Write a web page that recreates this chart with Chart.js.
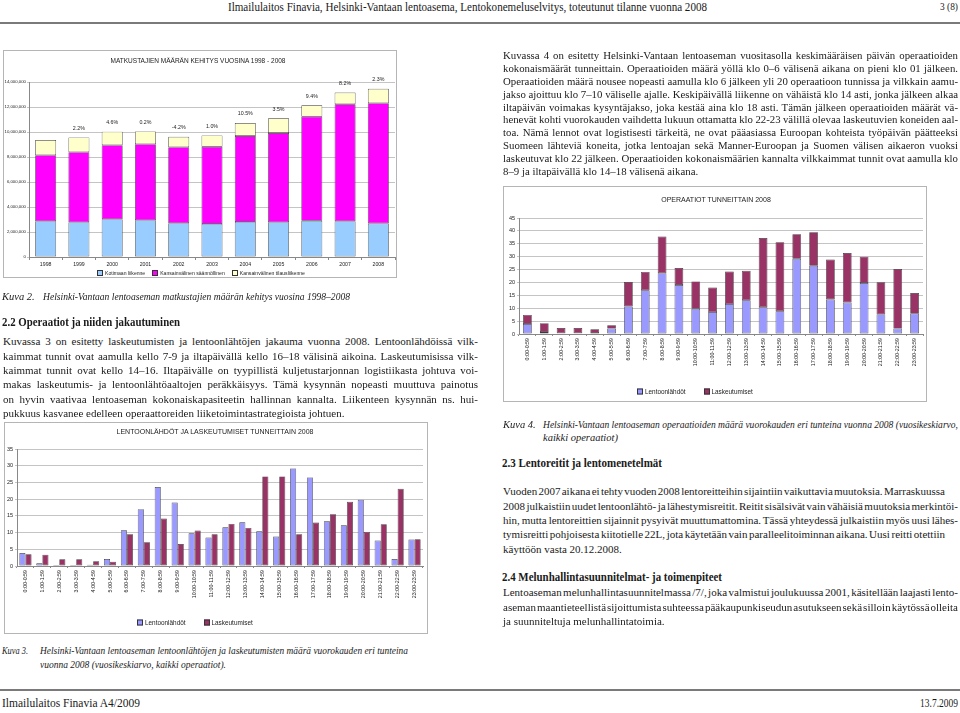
<!DOCTYPE html>
<html><head><meta charset="utf-8">
<script src="https://cdn.jsdelivr.net/npm/chart.js@4.4.1/dist/chart.umd.min.js"></script>
<style>
html,body{margin:0;padding:0;}
body{width:960px;height:713px;position:relative;background:#fff;overflow:hidden;font-family:"Liberation Serif","Times New Roman",serif;color:#1a1a1a;}
.ln{position:absolute;white-space:nowrap;transform-origin:left center;}
.box{position:absolute;border:1px solid #b5b5b5;box-sizing:border-box;background:#fff;}
.cw{position:absolute;}
.ct{position:absolute;font-family:"Liberation Sans",Arial,sans-serif;color:#222;white-space:nowrap;transform:translate(-50%,-50%);}
.lg{position:absolute;font-family:"Liberation Sans",Arial,sans-serif;color:#222;white-space:nowrap;display:flex;align-items:center;transform:translateY(-50%);}
.lg i{display:inline-block;width:4px;height:4px;border:0.6px solid #333;margin-right:2px;}
.lg span{display:inline-flex;align-items:center;}
.rule{position:absolute;left:0;width:960px;height:2px;background:#7a7a7a;}
</style>
</head><body>

<div class="rule" style="top:22px"></div>
<div class="rule" style="top:689px"></div>

<div class="box" style="left:3px;top:50px;width:394px;height:228px"></div>
<div class="cw" style="left:4px;top:51px;width:392px;height:226px"><canvas id="c1"></canvas></div>
<div class="ct" style="left:198px;top:60px;font-size:6.5px">MATKUSTAJIEN MÄÄRÄN KEHITYS VUOSINA 1998 - 2008</div>
<div class="lg" style="left:97px;top:273px;font-size:5.1px">
  <span><i style="background:#99CCFF"></i>Kotimaan liikenne</span>
  <span style="margin-left:7px"><i style="background:#FF00FF"></i>Kansainvälinen säännöllinen</span>
  <span style="margin-left:7px"><i style="background:#FFFFCC"></i>Kansainvälinen tilausliikenne</span>
</div>

<div class="box" style="left:503px;top:186px;width:424px;height:216px"></div>
<div class="cw" style="left:504px;top:187px;width:422px;height:214px"><canvas id="c4"></canvas></div>
<div class="ct" style="left:716px;top:199px;font-size:7px">OPERAATIOT TUNNEITTAIN 2008</div>
<div class="lg" style="left:637px;top:391px;font-size:6.4px">
  <span><i style="background:#9999FF"></i>Lentoonlähdöt</span>
  <span style="margin-left:18px"><i style="background:#993366"></i>Laskeutumiset</span>
</div>

<div class="box" style="left:4px;top:422px;width:424px;height:212px"></div>
<div class="cw" style="left:5px;top:423px;width:422px;height:210px"><canvas id="c3"></canvas></div>
<div class="ct" style="left:215px;top:431px;font-size:7px">LENTOONLÄHDÖT JA LASKEUTUMISET TUNNEITTAIN 2008</div>
<div class="lg" style="left:137px;top:622px;font-size:6.4px">
  <span><i style="background:#9999FF"></i>Lentoonlähdöt</span>
  <span style="margin-left:18px"><i style="background:#993366"></i>Laskeutumiset</span>
</div>

<script>
// ---------- DATA ----------
const years = ['1998','1999','2000','2001','2002','2003','2004','2005','2006','2007','2008'];
const domestic      = [2870000,2790000,3030000,2950000,2710000,2650000,2810000,2790000,2900000,2870000,2680000];
const intlScheduled = [5280000,5600000,5920000,6080000,6080000,6170000,6870000,7130000,8330000,9350000,9630000];
const intlCharter   = [1210000,1180000,1080000,1020000, 830000, 910000,1040000,1180000, 910000, 940000,1150000];
const growthLabels  = ['','2.2%','4.6%','0.2%','-4.2%','1.0%','10.5%','3.5%','9.4%','8.2%','2.3%'];
const yearTicks = [0,2000000,4000000,6000000,8000000,10000000,12000000,14000000];

const hours = ['0:00-0:59','1:00-1:59','2:00-2:59','3:00-3:59','4:00-4:59','5:00-5:59','6:00-6:59','7:00-7:59',
  '8:00-8:59','9:00-9:59','10:00-10:59','11:00-11:59','12:00-12:59','13:00-13:59','14:00-14:59','15:00-15:59',
  '16:00-16:59','17:00-17:59','18:00-18:59','19:00-19:59','20:00-20:59','21:00-21:59','22:00-22:59','23:00-23:59'];
const departures = [3.9,0.8,0.3,0.3,0.4,2.1,10.7,17.0,23.6,19.0,9.8,8.5,11.6,13.1,10.4,8.8,29.2,26.5,13.4,12.2,19.8,7.6,2.1,7.9];
const landings   = [3.5,3.4,2.0,2.0,1.4,1.3,9.5,7.1,14.2,6.6,10.6,9.5,12.6,11.4,26.8,26.8,9.5,13.0,15.5,19.2,10.2,12.5,23.1,8.0];

// ---------- CHARTS ----------
Chart.defaults.font.family = '"Liberation Sans", Arial, sans-serif';
Chart.defaults.color = '#222';
const EDGE = '#3a3a3a';

const growthPlugin = {
  id:'growth',
  afterDatasetsDraw(chart){
    const ctx = chart.ctx;
    const meta = chart.getDatasetMeta(chart.data.datasets.length-1);
    ctx.save();
    ctx.font = '5.3px "Liberation Sans", Arial, sans-serif';
    ctx.fillStyle = '#222'; ctx.textAlign='center'; ctx.textBaseline='middle';
    meta.data.forEach((bar,i)=>{ if(growthLabels[i]) ctx.fillText(growthLabels[i], bar.x, bar.y-9); });
    ctx.restore();
  }
};

new Chart(document.getElementById('c1'), {
  type:'bar',
  data:{labels:years, datasets:[
    {label:'Kotimaan liikenne', data:domestic, backgroundColor:'#99CCFF'},
    {label:'Kansainvälinen säännöllinen', data:intlScheduled, backgroundColor:'#FF00FF'},
    {label:'Kansainvälinen tilausliikenne', data:intlCharter, backgroundColor:'#FFFFCC'}
  ]},
  options:{
    responsive:true, maintainAspectRatio:false, animation:false,
    layout:{padding:{left:0,top:31,right:1,bottom:0}},
    plugins:{legend:{display:false}, title:{display:false}, tooltip:{enabled:false}},
    datasets:{bar:{categoryPercentage:1, barPercentage:0.63, borderColor:EDGE, borderWidth:0.7, borderSkipped:false}},
    scales:{
      x:{stacked:true,
         grid:{drawOnChartArea:false, drawTicks:true, tickLength:3, color:'#888'},
         border:{color:'#888'},
         ticks:{font:{size:5.2}, padding:1, maxRotation:0, autoSkip:false},
         afterFit(s){ s.height = 20; }},
      y:{stacked:true, min:0, max:14000000,
         afterBuildTicks(s){ s.ticks = yearTicks.map(v=>({value:v})); },
         ticks:{font:{size:4.3}, padding:1, callback:v=>Number(v).toLocaleString('en-US')},
         grid:{color:'#c4c4c4', tickLength:2},
         border:{color:'#888'},
         afterFit(s){ s.width = 25; }}
    }
  },
  plugins:[growthPlugin]
});

function hourScales(stacked, leftW, xH, maxV){
  return {
    x:{stacked,
       grid:{drawOnChartArea:false, drawTicks:true, tickLength:2, color:'#888'},
       border:{color:'#888'},
       ticks:{font:{size:5.3}, padding:2, minRotation:90, maxRotation:90, autoSkip:false},
       afterFit(s){ s.height = xH; }},
    y:{stacked, min:0, max:maxV,
       ticks:{font:{size:5.5}, padding:2, stepSize:5},
       grid:{color:'#c4c4c4', tickLength:2},
       border:{color:'#888'},
       afterFit(s){ s.width = leftW; }}
  };
}

new Chart(document.getElementById('c4'), {
  type:'bar',
  data:{labels:hours, datasets:[
    {label:'Lentoonlähdöt', data:departures, backgroundColor:'#9999FF'},
    {label:'Laskeutumiset', data:landings, backgroundColor:'#993366'}
  ]},
  options:{
    responsive:true, maintainAspectRatio:false, animation:false,
    layout:{padding:{left:0,top:31,right:3,bottom:0}},
    plugins:{legend:{display:false}, title:{display:false}, tooltip:{enabled:false}},
    datasets:{bar:{categoryPercentage:1, barPercentage:0.52, borderColor:EDGE, borderWidth:0.7, borderSkipped:false}},
    scales:hourScales(true, 15, 67, 45)
  }
});

new Chart(document.getElementById('c3'), {
  type:'bar',
  data:{labels:hours, datasets:[
    {label:'Lentoonlähdöt', data:departures, backgroundColor:'#9999FF'},
    {label:'Laskeutumiset', data:landings, backgroundColor:'#993366'}
  ]},
  options:{
    responsive:true, maintainAspectRatio:false, animation:false,
    layout:{padding:{left:0,top:26,right:4,bottom:0}},
    plugins:{legend:{display:false}, title:{display:false}, tooltip:{enabled:false}},
    datasets:{bar:{categoryPercentage:0.72, barPercentage:1, borderColor:EDGE, borderWidth:0.7, borderSkipped:false}},
    scales:hourScales(false, 12, 67, 35)
  }
});

// ---------- PAGE TEXT ----------
function lines(o){
  o.lines.forEach((t,i)=>{
    const d = document.createElement('div');
    d.className = 'ln';
    d.textContent = t;
    const lh = o.size*1.25;
    d.style.left = o.x+'px';
    d.style.top = (o.y + i*(o.lh||0) - lh/2)+'px';
    d.style.fontSize = o.size+'px';
    d.style.lineHeight = lh+'px';
    if(o.italic) d.style.fontStyle='italic';
    if(o.bold) d.style.fontWeight='bold';
    const isLast = i === o.lines.length-1;
    let w = o.w ? (Array.isArray(o.w) ? o.w[i] : o.w) : null;
    if(o.justify && isLast && !Array.isArray(o.w)) w = null;
    if(w){ d.dataset.w = w; d.dataset.mode = o.justify ? 'ws' : 'sx'; }
    document.body.appendChild(d);
  });
}

lines({x:228,y:7,size:12,w:479,lines:['Ilmailulaitos Finavia, Helsinki-Vantaan lentoasema, Lentokonemeluselvitys, toteutunut tilanne vuonna 2008']});
lines({x:940,y:7,size:11,w:18,lines:['3 (8)']});

lines({x:503,y:55.7,lh:12.9,size:10.8,w:455,justify:true,lines:[
'Kuvassa 4 on esitetty Helsinki-Vantaan lentoaseman vuositasolla keskimääräisen päivän operaatioiden',
'kokonaismäärät tunneittain. Operaatioiden määrä yöllä klo 0–6 välisenä aikana on pieni klo 01 jälkeen.',
'Operaatioiden määrä nousee nopeasti aamulla klo 6 jälkeen yli 20 operaatioon tunnissa ja vilkkain aamu-',
'jakso ajoittuu klo 7–10 väliselle ajalle. Keskipäivällä liikenne on vähäistä klo 14 asti, jonka jälkeen alkaa',
'iltapäivän voimakas kysyntäjakso, joka kestää aina klo 18 asti. Tämän jälkeen operaatioiden määrät vä-',
'henevät kohti vuorokauden vaihdetta lukuun ottamatta klo 22-23 välillä olevaa laskeutuvien koneiden aal-',
'toa. Nämä lennot ovat logistisesti tärkeitä, ne ovat pääasiassa Euroopan kohteista työpäivän päätteeksi',
'Suomeen lähteviä koneita, jotka lentoajan sekä Manner-Euroopan ja Suomen välisen aikaeron vuoksi',
'laskeutuvat klo 22 jälkeen. Operaatioiden kokonaismäärien kannalta vilkkaimmat tunnit ovat aamulla klo',
'8–9 ja iltapäivällä klo 14–18 välisenä aikana.']});

lines({x:2,y:297,size:10.5,italic:true,lines:['Kuva 2.']});
lines({x:43,y:297,size:10.5,italic:true,w:307,lines:['Helsinki-Vantaan lentoaseman matkustajien määrän kehitys vuosina 1998–2008']});
lines({x:2,y:322,size:12,bold:true,w:178,lines:['2.2 Operaatiot ja niiden jakautuminen']});
lines({x:3,y:342,lh:14.4,size:11,w:475,justify:true,lines:[
'Kuvassa 3 on esitetty laskeutumisten ja lentoonlähtöjen jakauma vuonna 2008. Lentoonlähdöissä vilk-',
'kaimmat tunnit ovat aamulla kello 7-9 ja iltapäivällä kello 16–18 välisinä aikoina. Laskeutumisissa vilk-',
'kaimmat tunnit ovat kello 14–16. Iltapäivälle on tyypillistä kuljetustarjonnan logistiikasta johtuva voi-',
'makas laskeutumis- ja lentoonlähtöaaltojen peräkkäisyys. Tämä kysynnän nopeasti muuttuva painotus',
'on hyvin vaativaa lentoaseman kokonaiskapasiteetin hallinnan kannalta. Liikenteen kysynnän ns. hui-',
'pukkuus kasvanee edelleen operaattoreiden liiketoimintastrategioista johtuen.']});

lines({x:503,y:425,size:10.5,italic:true,lines:['Kuva 4.']});
lines({x:543,y:425,lh:13,size:10.5,italic:true,w:[415,null],lines:[
'Helsinki-Vantaan lentoaseman operaatioiden määrä vuorokauden eri tunteina vuonna 2008 (vuosikeskiarvo,',
'kaikki operaatiot)']});
lines({x:502,y:463,size:12,bold:true,w:160,lines:['2.3 Lentoreitit ja lentomenetelmät']});
lines({x:503,y:492,lh:14.4,size:11,w:[442,455,455,442,null],justify:true,lines:[
'Vuoden 2007 aikana ei tehty vuoden 2008 lentoreitteihin sijaintiin vaikuttavia muutoksia. Marraskuussa',
'2008 julkaistiin uudet lentoonlähtö- ja lähestymisreitit. Reitit sisälsivät vain vähäisiä muutoksia merkintöi-',
'hin, mutta lentoreittien sijainnit pysyivät muuttumattomina. Tässä yhteydessä julkaistiin myös uusi lähes-',
'tymisreitti pohjoisesta kiitotielle 22L, jota käytetään vain paralleelitoiminnan aikana. Uusi reitti otettiin',
'käyttöön vasta 20.12.2008.']});
lines({x:502,y:577,size:12,bold:true,w:220,lines:['2.4 Melunhallintasuunnitelmat- ja toimenpiteet']});
lines({x:503,y:593,lh:14.4,size:11,w:455,justify:true,lines:[
'Lentoaseman melunhallintasuunnitelmassa /7/, joka valmistui joulukuussa 2001, käsitellään laajasti lento-',
'aseman maantieteellistä sijoittumista suhteessa pääkaupunkiseudun asutukseen sekä silloin käytössä olleita',
'ja suunniteltuja melunhallintatoimia.']});

lines({x:2,y:652,size:9.5,italic:true,w:26,lines:['Kuva 3.']});
lines({x:40,y:652,lh:14,size:9.5,italic:true,w:[368,186],lines:[
'Helsinki-Vantaan lentoaseman lentoonlähtöjen ja laskeutumisten määrä vuorokauden eri tunteina',
'vuonna 2008 (vuosikeskiarvo, kaikki operaatiot).']});

lines({x:2,y:703,size:11.5,w:138,lines:['Ilmailulaitos Finavia A4/2009']});
lines({x:920,y:703,size:11.5,w:38,lines:['13.7.2009']});

function fit(){
  document.querySelectorAll('.ln[data-w]').forEach(el=>{
    const target = +el.dataset.w;
    if(!target) return;
    const natural = el.getBoundingClientRect().width;
    if(el.dataset.mode==='ws'){
      const spaces = (el.textContent.match(/ /g)||[]).length;
      if(spaces) el.style.wordSpacing = ((target-natural)/spaces)+'px';
    } else {
      el.style.transform = 'scaleX('+(target/natural)+')';
    }
  });
}
fit();
</script>
</body></html>
